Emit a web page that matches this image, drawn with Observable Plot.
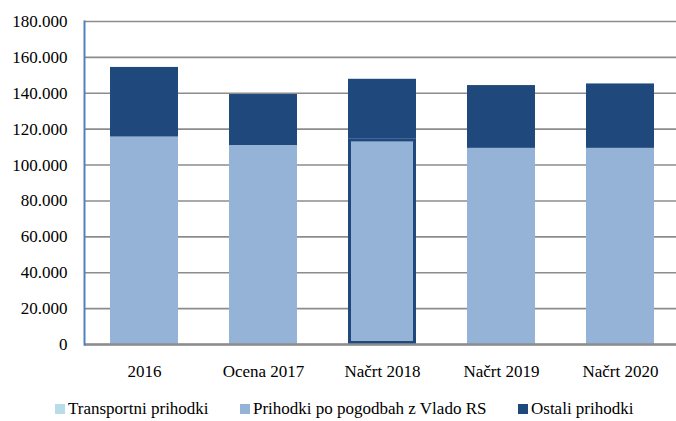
<!DOCTYPE html>
<html>
<head>
<meta charset="utf-8">
<script src="https://cdn.jsdelivr.net/npm/d3@7"></script>
<script src="https://cdn.jsdelivr.net/npm/@observablehq/plot@0.6"></script>
<style>
  html, body { margin: 0; padding: 0; background: #fff; }
  #wrap { width: 676px; font-family: "Liberation Serif", "Times New Roman", Times, "DejaVu Serif", serif; }
  #chart svg, #chart svg text { font-family: "Liberation Serif", "Times New Roman", Times, "DejaVu Serif", serif !important; }
  #legend { position: relative; height: 31px; width: 676px; font-size: 17px; color: #000; }
  .item { position: absolute; top: 10px; white-space: nowrap; line-height: 17px; }
  .sw { display: inline-block; width: 10px; height: 10px; margin-right: 3px; vertical-align: 0px; }
</style>
</head>
<body>
<div id="wrap"><div id="chart"></div><div id="legend"></div></div>
<script>
const years = ["2016", "Ocena 2017", "Načrt 2018", "Načrt 2019", "Načrt 2020"];
const seriesNames = ["Transportni prihodki", "Prihodki po pogodbah z Vlado RS", "Ostali prihodki"];
const seriesColors = ["#B7DEE8", "#95B3D7", "#1F497D"];
const transport = [0, 0, 0, 0, 0];
const pogodbe = [115600, 110900, 114600, 109300, 109300];
const ostali = [38800, 28400, 33200, 35000, 35900];
const yTicks = [0, 20000, 40000, 60000, 80000, 100000, 120000, 140000, 160000, 180000];
const highlightYear = "Načrt 2018";

const seriesValues = [transport, pogodbe, ostali];
const data = [];
seriesNames.forEach((s, si) => years.forEach((y, yi) => data.push({year: y, series: s, order: si, value: seriesValues[si][yi]})));
const hi = years.indexOf(highlightYear);
const highlight = [{year: highlightYear, value: pogodbe[hi] + transport[hi]}];

const fmt = d => d === 0 ? "0" : d3.format(",")(d).replace(/,/g, ".");

const chart = Plot.plot({
  width: 676,
  height: 390,
  marginTop: 21,
  marginBottom: 46,
  marginLeft: 84,
  marginRight: 0,
  style: {fontFamily: "'Liberation Serif', 'Times New Roman', Times, serif", fontSize: "17px", color: "#000", background: "#fff", overflow: "visible"},
  x: {domain: years, range: [84, 679], paddingInner: 0.43, paddingOuter: 0.215, label: null},
  y: {domain: [0, 180000], label: null},
  color: {domain: seriesNames, range: seriesColors},
  marks: [
    Plot.gridY(yTicks, {stroke: "#8c8c8c", strokeWidth: 1.6, strokeOpacity: 1}),
    Plot.barY(data, {x: "year", y: "value", fill: "series", order: seriesNames}),
    Plot.barY(highlight, {x: "year", y: "value", fill: "none", stroke: "#1F497D", strokeWidth: 3, inset: 1.5}),
    Plot.ruleY([0], {stroke: "#8c8c8c", strokeWidth: 2.5}),
    Plot.axisY({ticks: yTicks, tickFormat: fmt, tickSize: 0, tickPadding: 17, fontSize: 17}),
    Plot.axisX({tickSize: 0, tickPadding: 20, fontSize: 17}),
    Plot.frame({anchor: "left", stroke: "#4F81BD", strokeWidth: 2})
  ]
});
document.getElementById("chart").appendChild(chart);

const legend = document.getElementById("legend");
const lefts = [55, 240, 518];
seriesNames.forEach((s, i) => {
  const it = document.createElement("div");
  it.className = "item";
  it.style.left = lefts[i] + "px";
  it.innerHTML = `<span class="sw" style="background:${seriesColors[i]}"></span>${s}`;
  legend.appendChild(it);
});
</script>
</body>
</html>
